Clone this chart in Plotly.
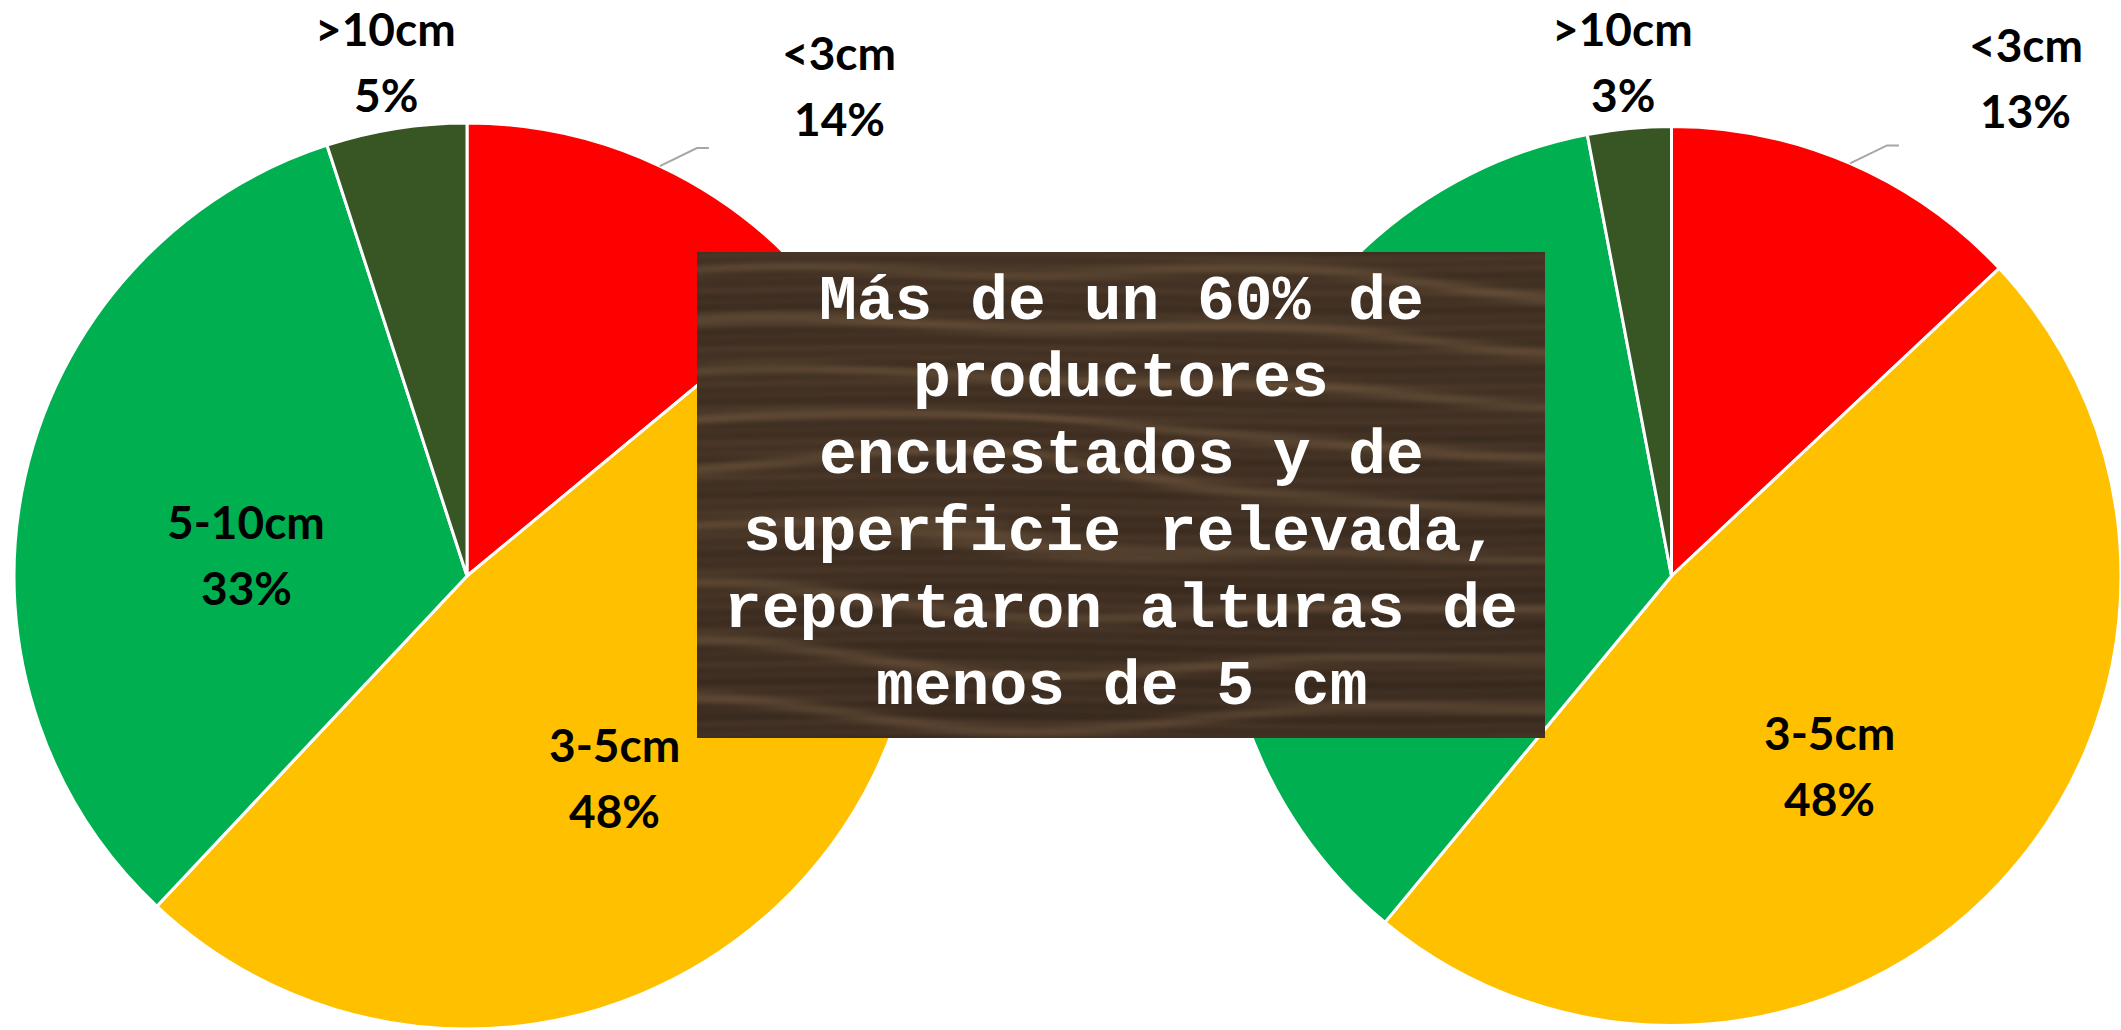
import base64
import math
import struct
import zlib

import numpy as np
import plotly.graph_objects as go

W, H = 2121, 1030

# Data
categories = ["<3cm", "3-5cm", "5-10cm", ">10cm"]
left_values = [14, 48, 33, 5]
right_values = [13, 48, 36, 3]
slice_colors = ["#FF0000", "#FFC000", "#00B050", "#375623"]

message_lines = [
    "Más de un 60% de",
    "productores",
    "encuestados y de",
    "superficie relevada,",
    "reportaron alturas de",
    "menos de 5 cm",
]

# Layout in pixels (domain of each pie, text box)
left_dom = ((14, 920), (123, 1029))
right_dom = ((1222, 2121), (123, 1029))
box = (697, 252, 1545, 738)  # x0, y0, x1, y1 (pixels from top-left)

# label placement per slice: (radius fraction, angle nudge in degrees)
label_place = {"<3cm": (1.36, 12), "3-5cm": (0.55, 7), "5-10cm": (0.49, -7), ">10cm": (1.15, 0)}
label_font = dict(family="Lato, Arial, sans-serif", size=46, color="black")
label_gap = 66


def px_x(x):
    return x / W


def px_y(y):
    return 1 - y / H


def wood_texture(w=420, h=240):
    # simple procedural wood grain for the message box
    xs = np.linspace(0, 1, w)[None, :]
    ys = np.linspace(0, 1, h)[:, None]
    t = (ys * 9 + 0.25 * np.sin(xs * 4 + ys * 3) + 0.15 * np.sin(xs * 9 + 1.3)
         + 0.9 * np.exp(-((xs - 0.35) ** 2) / 0.05) * np.exp(-((ys - 0.45) ** 2) / 0.02))
    grain = np.abs(np.sin(np.pi * t)) ** 14
    fine = (np.sin(ys * 260 + 1.5 * np.sin(xs * 6)) * 0.5
            + np.sin(ys * 97 + 0.8 * np.sin(xs * 3 + 1)) * 0.5)
    shade = 0.5 + 0.5 * np.sin(ys * 4 + xs * 1.5)
    base = np.array([62, 46, 34], dtype=float)
    img = (base[None, None, :]
           + grain[..., None] * np.array([24, 20, 14])
           + fine[..., None] * np.array([7, 5, 4])
           + shade[..., None] * np.array([6, 5, 3]))
    return np.clip(img, 0, 255).astype(np.uint8)


def png_uri(arr):
    h, w, _ = arr.shape
    raw = b"".join(b"\x00" + arr[y].tobytes() for y in range(h))

    def chunk(tag, data):
        return (struct.pack(">I", len(data)) + tag + data
                + struct.pack(">I", zlib.crc32(tag + data) & 0xFFFFFFFF))

    png = (b"\x89PNG\r\n\x1a\n"
           + chunk(b"IHDR", struct.pack(">IIBBBBB", w, h, 8, 2, 0, 0, 0))
           + chunk(b"IDAT", zlib.compress(raw, 9))
           + chunk(b"IEND", b""))
    return "data:image/png;base64," + base64.b64encode(png).decode()


def in_box(x, y):
    return box[0] < x < box[2] and box[1] < y < box[3]


fig = go.Figure()
annotations = []
shapes = []

for values, (dx, dy) in [(left_values, left_dom), (right_values, right_dom)]:
    fig.add_trace(go.Pie(
        labels=categories,
        values=values,
        sort=False,
        direction="clockwise",
        rotation=0,
        textinfo="none",
        hoverinfo="label+percent",
        marker=dict(colors=slice_colors, line=dict(color="white", width=3)),
        domain=dict(x=[px_x(dx[0]), px_x(dx[1])], y=[px_y(dy[1]), px_y(dy[0])]),
        showlegend=False,
    ))

    # pie geometry, used to place the data labels
    cx = (dx[0] + dx[1]) / 2
    cy = (dy[0] + dy[1]) / 2
    r = min(dx[1] - dx[0], dy[1] - dy[0]) / 2
    total = sum(values)
    cum = 0
    for cat, v in zip(categories, values):
        mid = (cum + v / 2) / total * 360
        cum += v
        frac, nudge = label_place[cat]
        a = math.radians(mid + nudge)
        lx = cx + frac * r * math.sin(a)
        ly = cy - frac * r * math.cos(a)
        if in_box(lx, ly):
            continue  # hidden behind the message box
        for k, txt in enumerate([cat, f"{v}%"]):
            annotations.append(dict(
                x=px_x(lx), y=px_y(ly + (k - 0.5) * label_gap),
                xref="paper", yref="paper", text=f"<b>{txt}</b>",
                showarrow=False, font=label_font,
                xanchor="center", yanchor="middle",
            ))
        if frac > 1.3:
            # leader line for the labels that sit away from the slice
            am = math.radians(mid)
            sx = cx + r * math.sin(am)
            sy = cy - r * math.cos(am)
            ex, ey = sx + 37, sy - 18
            shapes.append(dict(
                type="path", xref="paper", yref="paper",
                path=(f"M {px_x(sx)} {px_y(sy)} L {px_x(ex)} {px_y(ey)} "
                      f"L {px_x(ex + 12)} {px_y(ey)}"),
                line=dict(color="#A6A6A6", width=2),
            ))

# message box text, one line per annotation
bx = (box[0] + box[2]) / 2
by = (box[1] + box[3]) / 2
line_gap = 77
for i, line in enumerate(message_lines):
    annotations.append(dict(
        x=px_x(bx), y=px_y(by + (i - (len(message_lines) - 1) / 2) * line_gap),
        xref="paper", yref="paper", text=f"<b>{line}</b>",
        showarrow=False, xanchor="center", yanchor="middle",
        font=dict(family="Liberation Mono, Courier New, monospace", size=63, color="white"),
    ))

fig.update_layout(
    width=W,
    height=H,
    margin=dict(l=0, r=0, t=0, b=0),
    paper_bgcolor="white",
    plot_bgcolor="white",
    showlegend=False,
    annotations=annotations,
    shapes=shapes,
    images=[dict(
        source=png_uri(wood_texture()),
        xref="paper", yref="paper",
        x=px_x(box[0]), y=px_y(box[1]),
        sizex=(box[2] - box[0]) / W, sizey=(box[3] - box[1]) / H,
        xanchor="left", yanchor="top",
        sizing="stretch", layer="above",
    )],
)

# drop the default page margin so the figure sits at the window corner
fig.write_html(
    "out.html",
    config={"displayModeBar": False},
    post_script="document.body.style.margin = '0';",
)
